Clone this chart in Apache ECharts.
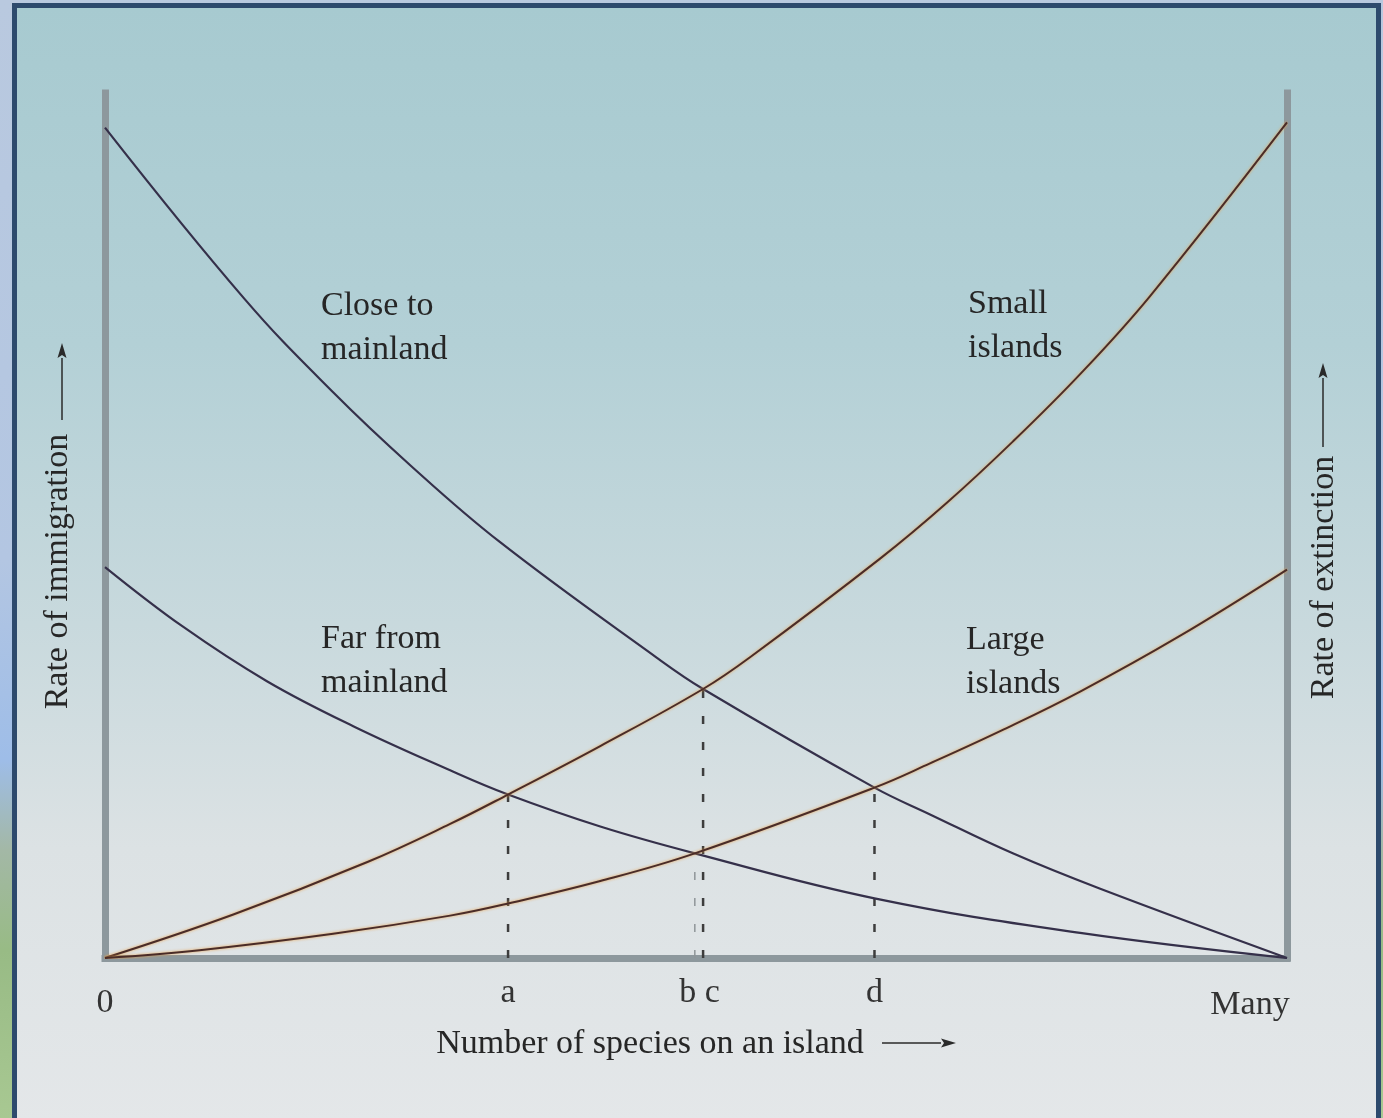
<!DOCTYPE html>
<html>
<head>
<meta charset="utf-8">
<title>Equilibrium number of species on islands</title>
<script src="https://cdn.jsdelivr.net/npm/echarts@6/dist/echarts.min.js"></script>
<style>
  html, body { margin: 0; padding: 0; width: 1383px; height: 1118px; overflow: hidden; }
  body {
    background: linear-gradient(to bottom, #b9c9df 0px, #b3c6e2 560px, #9ebde8 760px, #a3b8a6 850px, #98bb85 950px, #a8c892 1118px);
  }
  #frame {
    position: absolute; left: 12px; top: 3px; width: 1369px; height: 1130px;
    box-sizing: border-box; border: 5px solid #2d4a6d;
    background: linear-gradient(to bottom, #a7cad0 0%, #b3d0d6 30%, #c8d9dd 55%, #dce2e4 75%, #e4e7e9 100%);
  }
  #main { position: absolute; left: 0; top: 0; width: 1383px; height: 1118px; }
</style>
</head>
<body>
<div id="frame"></div>
<div id="main"></div>
<script>
// immigration curves (falling) and extinction curves (rising)
const closeX = [0, 11.8, 19.3, 25.8, 33.4, 46.7, 50.6, 65.1, 69.8, 76.8, 84.2, 100];
const closeY = [96.0, 76.2, 65.4, 57.0, 48.1, 34.7, 31.1, 19.7, 16.6, 12.1, 8.0, 0];

const farX = [0, 6.6, 13.7, 21.0, 29.2, 34.1, 41.9, 49.9, 65.1, 82.5, 100];
const farY = [45.2, 38.3, 32.0, 26.8, 21.7, 18.9, 15.2, 12.1, 6.9, 2.9, 0];

const smallX = [0, 10.8, 22.2, 29.2, 34.1, 41.9, 50.6, 54.6, 65.6, 71.2, 76.8, 82.5, 88.4, 100];
const smallY = [0, 5.0, 11.1, 15.5, 18.9, 24.5, 31.1, 34.8, 46.2, 52.6, 59.7, 67.5, 76.5, 96.6];

const largeX = [0, 8.0, 19.3, 29.2, 34.1, 41.9, 49.9, 65.1, 69.8, 76.0, 82.5, 90.9, 100];
const largeY = [0, 0.9, 2.8, 4.9, 6.3, 8.9, 12.1, 19.7, 22.5, 26.4, 30.8, 37.2, 44.9];

// crossing points a, b, c, d
const dropX = [34.1, 49.9, 50.6, 65.1];
const dropY = [18.9, 12.1, 31.1, 19.7];

const tickValues = [0, 34.1, 50.3, 65.1, 100];
const tickNames = ['0', 'a', 'b c', 'd', 'Many'];

const serif = '"Liberation Serif", "DejaVu Serif", serif';
const axisGray = '#8d989d';

function pairs(xs, ys) {
  return xs.map((x, i) => [x, ys[i]]);
}

function curve(name, xs, ys, warm) {
  return {
    name: name,
    type: 'line',
    data: pairs(xs, ys),
    smooth: 0.4,
    showSymbol: false,
    silent: true,
    z: 5,
    lineStyle: warm
      ? { color: '#4a2c28', width: 2, shadowColor: 'rgba(236,160,70,0.95)', shadowBlur: 3 }
      : { color: '#35304a', width: 2.2 }
  };
}

function drop(i) {
  const faint = i === 1;
  return {
    type: 'line',
    data: [[dropX[i], 0], [dropX[i], dropY[i]]],
    showSymbol: false,
    silent: true,
    z: 3,
    lineStyle: {
      color: faint ? '#8f9598' : '#3d3d3d',
      width: faint ? 1.5 : 2.5,
      type: [8, 18]
    }
  };
}

function arrow(x1, y1, x2, y2) {
  // thin shaft with a narrow head at (x2, y2)
  const dx = x2 - x1, dy = y2 - y1;
  const len = Math.sqrt(dx * dx + dy * dy);
  const ux = dx / len, uy = dy / len;
  const bx = x2 - ux * 15, by = y2 - uy * 15;
  return [
    { type: 'line', shape: { x1: x1, y1: y1, x2: bx, y2: by }, style: { stroke: '#2a2a2a', lineWidth: 1.5 } },
    { type: 'polygon', shape: { points: [[x2, y2], [bx - uy * 4.5, by + ux * 4.5], [bx + ux * 3, by + uy * 3], [bx + uy * 4.5, by - ux * 4.5]] }, style: { fill: '#2a2a2a' } }
  ];
}

function note(text, x, y) {
  return {
    type: 'text', x: x, y: y, silent: true,
    style: { text: text, fill: '#262626', font: '34px ' + serif, lineHeight: 44, verticalAlign: 'top' }
  };
}

const nameRich = {
  t: { fontFamily: serif, fontSize: 34, color: '#262626' },
  g: { width: 92 }
};

let option = {
  animation: false,
  backgroundColor: 'transparent',
  grid: { left: 105, top: 93, width: 1182, height: 865, outerBoundsMode: 'none' },
  xAxis: {
    type: 'value', min: 0, max: 100,
    axisLine: { show: true, onZero: false, lineStyle: { color: axisGray, width: 7, cap: 'square' } },
    axisTick: { show: false },
    splitLine: { show: false },
    axisLabel: {
      customValues: tickValues,
      margin: 18,
      fontFamily: serif, fontSize: 34, color: '#333',
      formatter: function (v) {
        const i = tickValues.indexOf(v);
        const s = i < 0 ? '' : tickNames[i];
        if (i === 0) return '{low|' + s + '}';
        if (i === tickValues.length - 1) return '{many|' + s + '}';
        return s;
      },
      rich: {
        low: { fontFamily: serif, fontSize: 34, color: '#333', padding: [10, 0, 0, 0] },
        many: { fontFamily: serif, fontSize: 34, color: '#333', padding: [12, 74, 0, 0] }
      }
    },
    name: '{t|Number of species on an island}{g|}',
    nameLocation: 'middle',
    nameGap: 66,
    nameTextStyle: { rich: nameRich }
  },
  yAxis: [
    {
      type: 'value', min: 0, max: 100, position: 'left',
      axisLine: { show: true, lineStyle: { color: axisGray, width: 7, cap: 'square' } },
      axisTick: { show: false }, axisLabel: { show: false }, splitLine: { show: false },
      name: '{t|Rate of immigration}{g|}',
      nameLocation: 'middle', nameRotate: 90, nameGap: 30,
      nameTextStyle: { rich: nameRich }
    },
    {
      type: 'value', min: 0, max: 100, position: 'right',
      axisLine: { show: true, lineStyle: { color: axisGray, width: 7, cap: 'square' } },
      axisTick: { show: false }, axisLabel: { show: false }, splitLine: { show: false },
      name: '{t|Rate of extinction}{g|}',
      nameLocation: 'middle', nameRotate: 90, nameGap: 20,
      nameTextStyle: { rich: { t: nameRich.t, g: { width: 104 } } }
    }
  ],
  series: [
    drop(0), drop(1), drop(2), drop(3),
    curve('Close to mainland', closeX, closeY, false),
    curve('Far from mainland', farX, farY, false),
    curve('Small islands', smallX, smallY, true),
    curve('Large islands', largeX, largeY, true)
  ],
  graphic: [
    note('Close to\nmainland', 321, 284),
    note('Far from\nmainland', 321, 617),
    note('Small\nislands', 968, 282),
    note('Large\nislands', 966, 618)
  ]
    .concat(arrow(882, 1043, 956, 1043))
    .concat(arrow(62, 420, 62, 343))
    .concat(arrow(1323, 447, 1323, 363))
};

let chart = echarts.init(document.getElementById('main'));
chart.setOption(option);
</script>
</body>
</html>
